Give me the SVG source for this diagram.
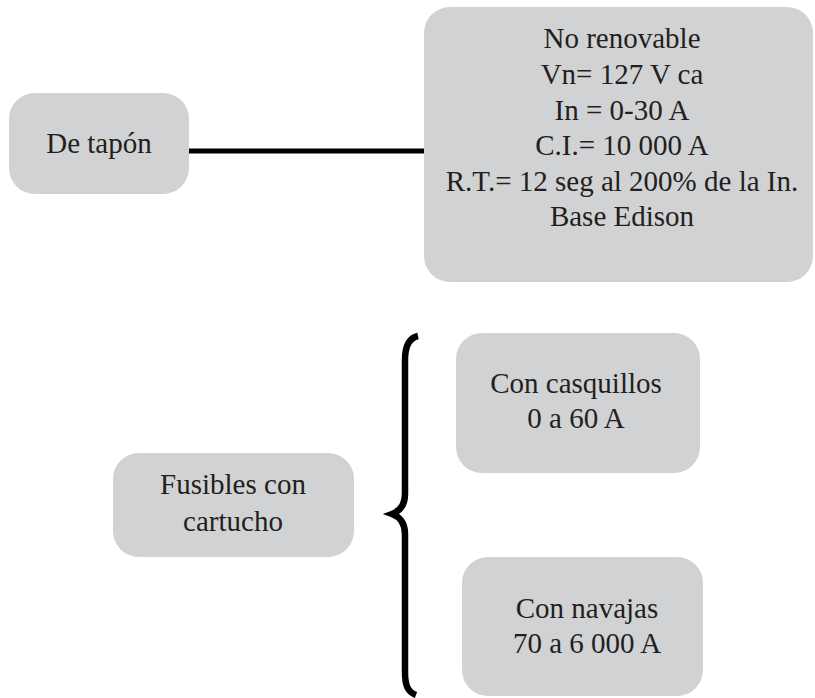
<svg xmlns="http://www.w3.org/2000/svg" width="815" height="698" viewBox="0 0 815 698">
<style>
.box{fill:#d1d2d4;}
.t{font-family:"Liberation Serif","Times New Roman",serif;font-size:29px;fill:#231f20;text-anchor:middle;}
.c{fill:none;stroke:#000;stroke-linecap:butt;}
</style>
<rect width="815" height="698" fill="#fff"/>
<g id="connectors">
<line class="c" x1="189" y1="151" x2="425" y2="151" stroke-width="5"/>
<path class="c" stroke-width="6.5" d="M418,336 C409,338 405,346 405,360 L405,494 C405,505 400,511 392,514 C400,517 405,523 405,534 L405,672 C405,686 408,692 416,695"/>
</g>
<g id="n-tapon">
<rect class="box" x="9" y="93" width="180" height="101" rx="26"/>
<text class="t" x="99" y="153">De tapón</text>
</g>
<g id="n-norenovable">
<rect class="box" x="424" y="7" width="389" height="275" rx="26"/>
<text class="t" x="622" y="48">No renovable</text>
<text class="t" x="622" y="84">Vn= 127 V ca</text>
<text class="t" x="622" y="120">In = 0-30 A</text>
<text class="t" x="622" y="155">C.I.= 10 000 A</text>
<text class="t" x="622" y="191">R.T.= 12 seg al 200% de la In.</text>
<text class="t" x="622" y="226">Base Edison</text>
</g>
<g id="n-fusibles">
<rect class="box" x="113" y="453" width="241" height="104" rx="26"/>
<text class="t" x="233" y="494">Fusibles con</text>
<text class="t" x="233" y="531">cartucho</text>
</g>
<g id="n-casquillos">
<rect class="box" x="456" y="333" width="244" height="140" rx="26"/>
<text class="t" x="576" y="393">Con casquillos</text>
<text class="t" x="576" y="428">0 a 60 A</text>
</g>
<g id="n-navajas">
<rect class="box" x="462" y="557" width="241" height="139" rx="26"/>
<text class="t" x="587" y="618">Con navajas</text>
<text class="t" x="587" y="653">70 a 6 000 A</text>
</g>
</svg>
